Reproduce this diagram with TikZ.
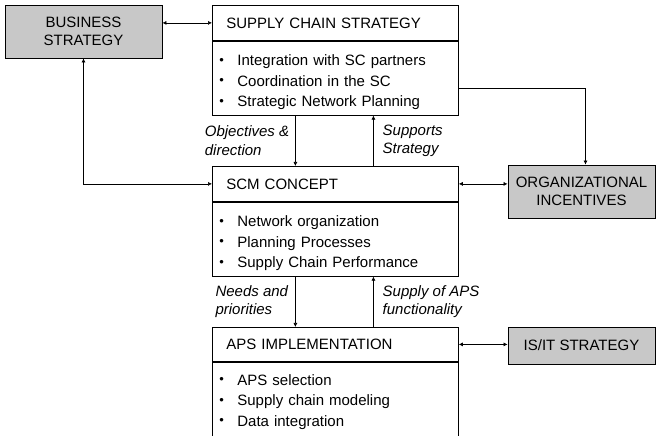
\documentclass[tikz,border=0pt]{standalone}
\usepackage{fontspec}
\setmainfont{Liberation Sans}
\usepackage{tikz}
\usetikzlibrary{positioning,arrows.meta}
\definecolor{boxgray}{HTML}{C8C8C8}
\newcommand{\itm}{\makebox[19pt][l]{\hspace{1pt}\raisebox{1.2pt}{\fontsize{13}{13}\selectfont\textbullet}}}
\newcommand{\topstrut}{\rule{0pt}{19pt}}
\tikzset{
  headbox/.style = {rectangle, draw, line width=0.8pt, text width=218pt, inner xsep=14pt,
                    inner ysep=0pt, minimum height=#1, align=left},
  headbox/.default = 35pt,
  listbox/.style = {rectangle, draw, line width=0.8pt, text width=234pt, inner xsep=6pt,
                    inner ysep=0pt, minimum height=#1, align=left,
                    font=\fontsize{15}{20.5}\selectfont},
  listbox/.default = 74pt,
  sidebox/.style = {rectangle, draw, line width=0.8pt, fill=boxgray, align=center,
                    minimum width=147pt, font=\fontsize{15}{18}\selectfont},
  flow/.style    = {-{Latex[length=4pt,width=4pt]}, line width=0.6pt},
  twoway/.style  = {{Latex[length=4pt,width=4pt]}-{Latex[length=4pt,width=4pt]}, line width=0.6pt},
  lbl/.style     = {font=\itshape\fontsize{15}{18.5}\selectfont, align=left, inner sep=0pt},
}

\begin{document}
\begin{tikzpicture}[x=1pt, y=1pt, font=\fontsize{15}{18}\selectfont]
  \useasboundingbox (0,0) rectangle (656,436);

  % strategy column
  \node[headbox, anchor=north west] (scs) at (212,431) {SUPPLY CHAIN STRATEGY};
  \node[listbox, below=0pt of scs] (scsl)
    {\topstrut\itm Integration with SC partners\\ \itm Coordination in the SC\\ \itm Strategic Network Planning};
  \node[headbox, anchor=north west] (scm) at (212,270) {SCM CONCEPT};
  \node[listbox, below=0pt of scm] (scml)
    {\topstrut\itm Network organization\\ \itm Planning Processes\\ \itm Supply Chain Performance};
  \node[headbox=34pt, anchor=north west] (aps) at (212,109) {APS IMPLEMENTATION};
  \node[listbox=79pt, below=0pt of aps] (apsl)
    {\itm APS selection\\ \itm Supply chain modeling\\ \itm Data integration\\[3pt]};

  % grey side boxes
  \node[sidebox, minimum width=157pt, minimum height=53pt] (bs) at (83.5,404.5) {BUSINESS\\STRATEGY};
  \node[sidebox, minimum height=53pt] (oi) at (581.5,244.5) {ORGANIZATIONAL\\INCENTIVES};
  \node[sidebox, minimum height=37pt] (isit) at (581.5,90.5) {IS/IT STRATEGY};

  \draw[twoway] (bs.east |- scs.west) -- (scs.west);
  \draw[twoway] (bs.south) |- (scm.west);
  \draw[flow] ([xshift=-40pt]scsl.south) -- ([xshift=-40pt]scm.north)
    node[lbl, midway, left=6pt] {Objectives \&\\direction};
  \draw[flow] ([xshift=38pt]scm.north) -- ([xshift=38pt]scsl.south)
    node[lbl, midway, right=9pt] {Supports\\Strategy};
  \draw[flow] ([yshift=-10pt]scsl.east) -| ([xshift=4pt]oi.north);
  \draw[twoway] (scm.east) -- (scm.east -| oi.west);
  \draw[flow] ([xshift=-40pt]scml.south) -- ([xshift=-40pt]aps.north)
    node[lbl, midway, left=7pt] {Needs and\\priorities};
  \draw[flow] ([xshift=38pt]aps.north) -- ([xshift=38pt]scml.south)
    node[lbl, midway, right=9pt] {Supply of APS\\functionality};
  \draw[twoway] (aps.east) -- (aps.east -| isit.west);
\end{tikzpicture}
\end{document}
